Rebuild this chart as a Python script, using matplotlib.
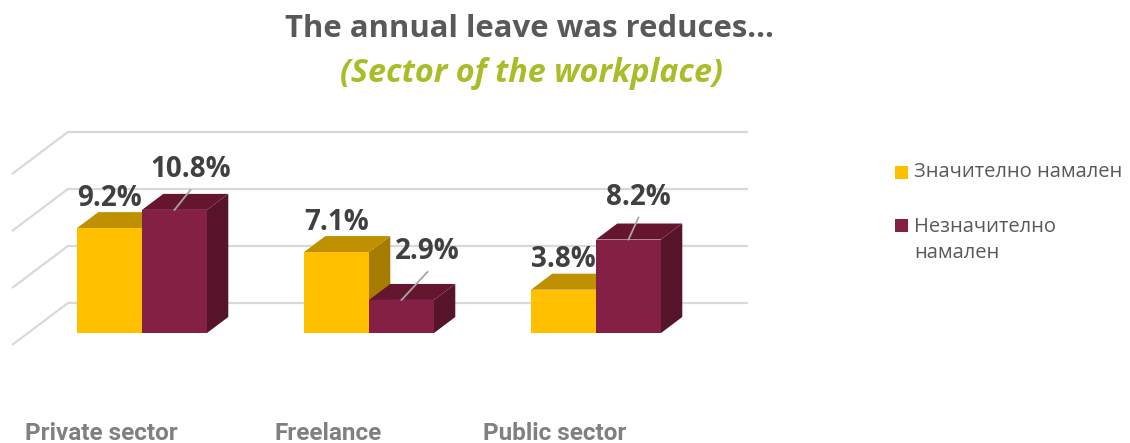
import matplotlib.pyplot as plt
from matplotlib.patches import Polygon, Rectangle

# values (%)
categories = ["Private sector", "Freelance", "Public sector"]
series_names = ["Значително намален", "Незначително\nнамален"]
significant = [9.2, 7.1, 3.8]
slight = [10.8, 2.9, 8.2]
grid_values = [0, 5, 10, 15]

# face colours: front, top, side
YELLOW = ("#FFC000", "#BF9000", "#A67C00")
MAROON = ("#841F45", "#66152F", "#55142A")

# pixel geometry of the oblique projection
PX_X = 227.0     # px per category step
PX_Y = 11.4      # px per percentage point
X0_PX, Y0_PX = 142.0, 333.0
W, H = 1130, 443
SLANT = 1.33     # horizontal px per px of depth
BAR_W = 65 / PX_X
BAR_DEPTH = 16
FLOOR_FRONT, WALL = -12, 30
XL = (28 - X0_PX) / PX_X
XR = (708 - X0_PX) / PX_X


def proj(x, v, t):
    """Front-plane data coords (x, v) pushed back by depth t (px)."""
    return x + SLANT * t / PX_X, v + t / PX_Y


def draw_bar(ax, x0, h, colors, z):
    front, top, side = colors
    x1 = x0 + BAR_W
    d = BAR_DEPTH
    ax.add_patch(Polygon([proj(x1, 0, 0), proj(x1, h, 0), proj(x1, h, d), proj(x1, 0, d)],
                         closed=True, facecolor=side, edgecolor="none", zorder=z))
    ax.add_patch(Polygon([proj(x0, h, 0), proj(x1, h, 0), proj(x1, h, d), proj(x0, h, d)],
                         closed=True, facecolor=top, edgecolor="none", zorder=z))
    ax.bar(x0, h, width=BAR_W, align="edge", color=front, linewidth=0, zorder=z)


fig = plt.figure(figsize=(W / 100, H / 100), dpi=100)
ax = fig.add_axes([0, 0, 1, 1])
ax.set_xlim(-X0_PX / PX_X, (W - X0_PX) / PX_X)
ax.set_ylim((Y0_PX - H) / PX_Y, Y0_PX / PX_Y)
ax.axis("off")

# back wall and side wall gridlines
for v in grid_values:
    xs, ys = zip(proj(XL, v, FLOOR_FRONT), proj(XL, v, WALL), proj(XR, v, WALL))
    ax.plot(xs, ys, color="#D9D9D9", lw=1.6, solid_capstyle="butt", zorder=1)

label_font = dict(family="Open Sans", weight="bold", size=20, color="#404040")
# maroon label offsets from the bar's top-front centre, px (dx, dy up)
slight_offsets = [(16, 40), (26, 48), (10, 42)]

for i, (a, b) in enumerate(zip(significant, slight)):
    draw_bar(ax, i - BAR_W, a, YELLOW, 3 + 2 * i)
    draw_bar(ax, i, b, MAROON, 4 + 2 * i)

    ax.text(i - BAR_W / 2, a + 30 / PX_Y, f"{a}%", ha="center", va="center",
            zorder=10, **label_font)

    dx, dy = slight_offsets[i]
    cx = i + BAR_W / 2
    lx, ly = cx + dx / PX_X, b + dy / PX_Y
    ax.text(lx, ly, f"{b}%", ha="center", va="center", zorder=10, **label_font)
    ax.plot([lx, cx], [ly - 20 / PX_Y, b], color="#A6A6A6", lw=1.3, zorder=9)

    ax.text(i - 0.18, -100 / PX_Y, categories[i], ha="center", va="center",
            family="Roboto", weight="bold", size=17.5, color="#808080")

# titles
fig.text(529 / W, 1 - 29 / H, "The annual leave was reduces...", ha="center", va="center",
         family="Open Sans", weight="bold", size=22.4, color="#595959")
fig.text(531 / W, 1 - 74 / H, "(Sector of the workplace)", ha="center", va="center",
         family="Open Sans", weight="bold", style="italic", size=23.2, color="#AABC28")

# legend
leg_font = dict(family="Open Sans", size=14.5, color="#595959", va="center", ha="left")
for (sq_y, txt_y), name, col in zip([(172, 172), (225, 240)], series_names,
                                    [YELLOW[0], MAROON[0]]):
    fig.patches.append(Rectangle((895 / W, 1 - (sq_y + 6.5) / H), 13 / W, 13 / H,
                                 transform=fig.transFigure, facecolor=col, edgecolor="none"))
    fig.text(914 / W, 1 - txt_y / H, name, linespacing=1.45, **leg_font)

fig.savefig("out.png", dpi=100)
